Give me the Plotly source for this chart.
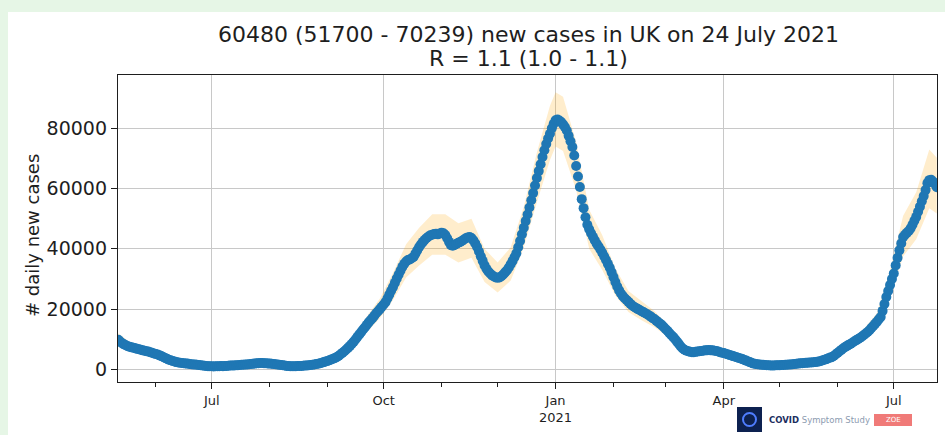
import pandas as pd
import plotly.graph_objects as go

# ---------------- data ----------------
start_date = "2020-05-12"
cases = [
    9800, 9200, 8700, 8300, 8000, 7700, 7500,
    7300, 7200, 7000, 6800, 6700, 6500, 6300,
    6200, 6000, 5900, 5700, 5500, 5300, 5100,
    4900, 4650, 4400, 4100, 3800, 3500, 3200,
    3000, 2800, 2600, 2400, 2300, 2200, 2100,
    2000, 1950, 1900, 1800, 1700, 1650, 1600,
    1500, 1450, 1350, 1300, 1200, 1150, 1050,
    1000, 1000, 950, 1000, 1050, 1000, 1100,
    1050, 1100, 1150, 1200, 1250, 1300, 1300,
    1350, 1400, 1450, 1500, 1550, 1600, 1650,
    1700, 1800, 1850, 1900, 2000, 2050, 2100,
    2100, 2050, 2000, 1950, 1900, 1850, 1800,
    1700, 1650, 1550, 1450, 1350, 1250, 1150,
    1100, 1050, 1000, 1000, 1050, 1100, 1100,
    1150, 1200, 1250, 1300, 1350, 1450, 1550,
    1650, 1750, 1850, 2000, 2200, 2400, 2600,
    2800, 3000, 3300, 3500, 3800, 4100, 4500,
    5000, 5500, 6000, 6600, 7200, 7800, 8500,
    9200, 10000, 10800, 11600, 12400, 13200, 14000,
    14800, 15600, 16300, 17000, 17800, 18600, 19300,
    20000, 20800, 21500, 22300, 23500, 24800, 26100,
    27300, 28700, 30100, 31400, 32700, 34000, 35000,
    35800, 36300, 36500, 36900, 37300, 38400, 39500,
    40600, 41500, 42300, 43000, 43600, 44100, 44500,
    44700, 44900, 45000, 44800, 45100, 45300, 45200,
    44600, 43500, 42300, 41200, 41000, 41300, 41700,
    42000, 42300, 42700, 43100, 43500, 43800, 43900,
    43600, 42800, 41800, 40600, 39100, 37500, 36000,
    34500, 33400, 32500, 31800, 31200, 30800, 30500,
    30400, 30500, 30900, 31500, 32200, 32900, 33800,
    34900, 36000, 37200, 38500, 40500, 42600, 44800,
    47000, 49200, 51400, 53700, 56100, 58500, 61000,
    63500, 65800, 68100, 70500, 72700, 74800, 76600,
    78200, 80000, 81500, 82700, 82900, 82600, 82100,
    81300, 80400, 79300, 77500, 75700, 73800, 71000,
    67500, 64000, 60500, 56500, 53500, 50500, 48000,
    46500, 45200, 44000, 42800, 41700, 40800, 39800,
    38700, 37500, 36300, 35000, 33700, 32200, 30600,
    29000, 27500, 26200, 25200, 24300, 23600, 23000,
    22400, 21800, 21200, 20800, 20400, 20000, 19700,
    19300, 19000, 18600, 18300, 17900, 17500, 17000,
    16600, 16100, 15600, 15100, 14600, 14000, 13300,
    12700, 12000, 11300, 10700, 10000, 9200, 8400,
    7600, 6900, 6500, 6200, 6000, 5800, 5700,
    5700, 5800, 5900, 6000, 6100, 6200, 6300,
    6300, 6400, 6300, 6300, 6200, 6100, 5900,
    5700, 5500, 5400, 5200, 5000, 4800, 4600,
    4400, 4200, 4000, 3800, 3600, 3400, 3100,
    2900, 2600, 2400, 2100, 1900, 1800, 1700,
    1600, 1550, 1500, 1450, 1400, 1350, 1300,
    1300, 1300, 1350, 1350, 1400, 1450, 1450,
    1500, 1550, 1600, 1650, 1700, 1800, 1850,
    1900, 2000, 2050, 2100, 2150, 2200, 2250,
    2300, 2350, 2400, 2500, 2600, 2800, 3000,
    3200, 3400, 3700, 3900, 4100, 4500, 5000,
    5500, 6000, 6500, 7000, 7400, 7800, 8200,
    8500, 8900, 9300, 9700, 10100, 10500, 10900,
    11400, 11900, 12400, 13000, 13700, 14400, 15100,
    15800, 16600, 17400, 19400, 21700, 24000, 26000,
    28000, 30000, 31800, 34500, 37000, 39500, 41800,
    43900, 44700, 45300, 45900, 46800, 48000, 49300,
    50600, 52300, 54000, 55800, 57500, 59500, 61800,
    62800, 62900, 62300, 61600, 60480,
]

# confidence band, read roughly weekly (day offset from start_date)
band_days = [0, 7, 14, 21, 28, 35, 42, 49, 56, 63, 70, 77, 84, 91, 98, 105,
             112, 119, 126, 133, 140, 147, 154, 161, 168, 175, 182, 189, 196,
             203, 210, 217, 224, 231, 234, 238, 245, 252, 259, 266, 273, 280,
             287, 294, 301, 308, 315, 322, 329, 336, 343, 350, 357, 364, 371,
             378, 385, 392, 399, 406, 413, 420, 427, 434, 438]
band_lower = [8000, 6200, 5300, 4100, 2500, 1600, 1200, 800, 850, 1100, 1400,
              1700, 1400, 900, 900, 1350, 2300, 4200, 7800, 12500, 17000,
              23000, 30500, 34500, 38000, 38000, 35500, 37000, 29000, 25500,
              29500, 40500, 55500, 69500, 74000, 72500, 59500, 40000, 33000,
              24500, 19000, 16300, 14000, 10700, 6300, 4800, 5300, 4800, 3700,
              2400, 1300, 1050, 1200, 1550, 1900, 2650, 4600, 7200, 9700,
              13400, 23800, 37500, 43200, 53500, 51700]
band_upper = [12000, 8600, 7300, 5800, 3600, 2500, 1900, 1300, 1350, 1700,
              2100, 2600, 2100, 1400, 1450, 2050, 3400, 6000, 11000, 17500,
              23500, 32000, 41500, 47000, 51500, 51500, 48500, 50000, 40000,
              35500, 40500, 54000, 72000, 87500, 92000, 90500, 75500, 53000,
              44500, 33500, 26000, 22500, 19300, 14800, 8900, 6700, 7300,
              6700, 5200, 3500, 2000, 1600, 1850, 2300, 2800, 3850, 6600,
              10000, 13400, 18600, 32800, 51000, 58800, 73000, 70239]

title_line1 = "60480 (51700 - 70239) new cases in UK on 24 July 2021"
title_line2 = "R = 1.1 (1.0 - 1.1)"
y_label = "# daily new cases"
x_tick_vals = ["2020-07-01", "2020-10-01", "2021-01-01", "2021-04-01", "2021-07-01"]
x_tick_text = ["Jul", "Oct", "Jan<br>2021", "Apr", "Jul"]
x_minor_vals = ["2020-06-01", "2020-08-01", "2020-09-01", "2020-11-01",
                "2020-12-01", "2021-02-01", "2021-03-01", "2021-05-01",
                "2021-06-01"]
y_tick_vals = [0, 20000, 40000, 60000, 80000]

# ---------------- figure ----------------
t0 = pd.Timestamp(start_date)
dates = pd.date_range(start_date, periods=len(cases), freq="D")
band_dates = [t0 + pd.Timedelta(days=d) for d in band_days]

FONT = "DejaVu Sans"
TXT = "#1e1e1e"
W, H = 945, 435
L, R, T, B = 118, 8, 75, 53
pw, ph = W - L - R, H - T - B


def px(x):
    return (x - L) / pw


def py(y):
    return (H - B - y) / ph


fig = go.Figure()
fig.add_trace(go.Scatter(
    x=band_dates + band_dates[::-1],
    y=band_upper + band_lower[::-1],
    fill="toself", fillcolor="rgba(255,165,0,0.20)",
    line=dict(width=0), mode="lines", hoverinfo="skip", showlegend=False))
fig.add_trace(go.Scatter(
    x=dates, y=cases, mode="markers",
    marker=dict(color="#1f77b4", size=10, line=dict(width=0)),
    showlegend=False))

shapes = [
    # white panel
    dict(type="rect", xref="paper", yref="paper", layer="below",
         x0=px(8), x1=px(950), y0=py(440), y1=py(12),
         fillcolor="white", line=dict(width=0)),
    # logo icon
    dict(type="rect", xref="paper", yref="paper",
         x0=px(737), x1=px(762), y0=py(432), y1=py(407),
         fillcolor="#0d2150", line=dict(width=0)),
    dict(type="circle", xref="paper", yref="paper",
         x0=px(743), x1=px(756), y0=py(426), y1=py(413),
         fillcolor="rgba(0,0,0,0)", line=dict(color="#4f7dff", width=2)),
    # ZOE badge
    dict(type="rect", xref="paper", yref="paper",
         x0=px(874), x1=px(912), y0=py(426), y1=py(414),
         fillcolor="#f07a78", line=dict(width=0)),
]

annotations = [
    dict(text=title_line1, xref="paper", yref="paper",
         x=px(528), y=py(35), xanchor="center", yanchor="middle",
         showarrow=False, font=dict(family=FONT, size=22, color=TXT)),
    dict(text=title_line2, xref="paper", yref="paper",
         x=px(528), y=py(59), xanchor="center", yanchor="middle",
         showarrow=False, font=dict(family=FONT, size=22, color=TXT)),
    dict(text=y_label, textangle=-90, xref="paper", yref="paper",
         x=px(32), y=py(236), xanchor="center", yanchor="middle",
         showarrow=False, font=dict(family=FONT, size=18, color=TXT)),
    dict(text="<b>COVID</b> <span style='color:#8c9bb0'>Symptom Study</span>",
         xref="paper", yref="paper", x=px(767), y=py(420),
         xanchor="left", yanchor="middle", showarrow=False,
         font=dict(family=FONT, size=8.5, color="#1b2d5e")),
    dict(text="ZOE", xref="paper", yref="paper", x=px(893), y=py(420),
         xanchor="center", yanchor="middle", showarrow=False,
         font=dict(family=FONT, size=7, color="white")),
]

fig.update_layout(
    width=W, height=H,
    margin=dict(l=L, r=R, t=T, b=B, autoexpand=False),
    paper_bgcolor="#e6f6e6", plot_bgcolor="white",
    font=dict(family=FONT, color=TXT),
    shapes=shapes, annotations=annotations,
    showlegend=False,
)

fig.update_xaxes(
    type="date",
    range=["2020-05-11 20:00", "2021-07-24 03:00"],
    tickmode="array", tickvals=x_tick_vals, ticktext=x_tick_text,
    ticks="outside", ticklen=6, tickwidth=1.2, tickcolor=TXT,
    tickfont=dict(family=FONT, size=13, color=TXT),
    showgrid=True, gridcolor="#c8c8c8", gridwidth=1.3,
    showline=True, linecolor=TXT, linewidth=1.4, mirror=True,
    minor=dict(tickvals=x_minor_vals, ticks="outside", ticklen=3.5,
               tickwidth=1, tickcolor=TXT, showgrid=False),
    zeroline=False, automargin=False,
)
fig.update_yaxes(
    range=[-4200, 97700],
    tickmode="array", tickvals=y_tick_vals, tickformat="d",
    ticks="outside", ticklen=6, tickwidth=1.2, tickcolor=TXT,
    tickfont=dict(family=FONT, size=19, color=TXT),
    showgrid=True, gridcolor="#c8c8c8", gridwidth=1.3,
    showline=True, linecolor=TXT, linewidth=1.4, mirror=True,
    zeroline=False, automargin=False,
)

fig.write_html("out.html",
               config={"displayModeBar": False},
               post_script="document.body.style.margin='0px';")
